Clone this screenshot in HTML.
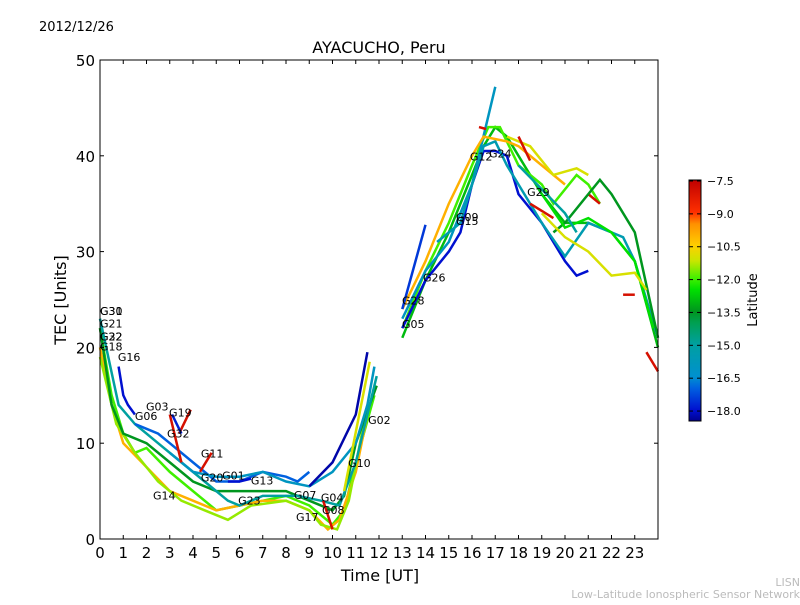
<!DOCTYPE html>
<html><head><meta charset="utf-8"><style>
body{margin:0;background:#fff;}
svg text{font-family:"DejaVu Sans","Liberation Sans",sans-serif;}
</style></head><body>
<svg id="chart" width="800" height="600" xmlns="http://www.w3.org/2000/svg">
<text x="39" y="31" font-size="13">2012/12/26</text>
<text x="379" y="53" font-size="16" text-anchor="middle">AYACUCHO, Peru</text>
<g id="series"></g>
<g id="labels"></g>
<rect x="100" y="60" width="558" height="479" fill="none" stroke="#000" stroke-width="1"/>
<g id="axes"></g>
<text x="380" y="581" font-size="16" text-anchor="middle">Time [UT]</text>
<text x="66" y="300" font-size="16" text-anchor="middle" transform="rotate(-90 66 300)">TEC [Units]</text>
<defs><linearGradient id="jet" x1="0" y1="1" x2="0" y2="0"></linearGradient></defs>
<rect x="689" y="180" width="12" height="241" fill="url(#jet)" stroke="#000" stroke-width="1"/>
<g id="cbar"></g>
<text x="757" y="300" font-size="13" text-anchor="middle" transform="rotate(-90 757 300)">Latitude</text>
<text x="800" y="586" font-size="11" fill="#bbb" text-anchor="end">LISN</text>
<text x="800" y="598" font-size="11" fill="#bbb" text-anchor="end">Low-Latitude Ionospheric Sensor Network</text>
</svg>
<script>
const xTicks=[0,1,2,3,4,5,6,7,8,9,10,11,12,13,14,15,16,17,18,19,20,21,22,23];
const yTicks=[0,10,20,30,40,50];
const cbarTicks=[-7.5,-9.0,-10.5,-12.0,-13.5,-15.0,-16.5,-18.0];
const seriesLat=[-12,-10,-11.5,-13.5,-15,-17,-16,-18,-18.3,-11,-8,-8,-8,-8,-17.8,-18,
 -13,-12,-18,-16,-15.5,-10,-11,-8,-8,-8,-8,-8,-8,-17.5,-13.5,-12.5,-11,-15];
const seriesPts=[
 [[0,22],[0.5,15],[1,11],[1.5,9],[2,9.5],[3,7],[4,5],[5,3],[6,3.5],[7,4],[8,4.5],[9,3.5],[10,1.5],[10.5,3],[11,8],[11.8,15]],
 [[0,20],[0.5,14],[1,10],[2,7.5],[3,5],[4,4],[5,3],[6,3.5],[7,4],[8,4],[9,3],[9.8,1],[10.3,2],[11,7],[11.5,13]],
 [[0,19],[0.7,12],[1.5,9],[2.5,6],[3.5,4],[4.5,3],[5.5,2],[6.5,3.5],[8,4],[9,3],[9.5,1.5],[10.2,1],[10.7,4],[11.5,14]],
 [[0,22],[0.5,14],[1,11],[2,10],[3,8],[4,6],[5,5],[6,5],[7,5],[8,5],[9,4],[10,3],[10.5,4.5],[11,10],[11.9,16]],
 [[0,23],[0.8,14],[1.5,12],[2.5,10],[3.5,8],[4.5,6],[5.5,4],[6,3.5],[7,4.5],[8.5,4.5],[9.5,4],[10.3,3.5],[11,8],[11.9,17]],
 [[1.5,12],[2,11.5],[2.5,11],[3,10],[4,8],[5,6],[6,6],[7,7],[8,6.5],[8.5,6],[9,7]],
 [[3,9],[4,7],[5,6.5],[6,6.5],[7,7],[8,6],[9,5.5],[10,7],[11,10],[11.5,14],[11.8,18]],
 [[0.8,18],[1,15],[1.2,14],[1.5,13]],
 [[9,5.5],[10,8],[11,13],[11.5,19.5]],
 [[10.5,5],[11.6,18.5]],
 [[3,13],[3.3,10],[3.5,8]],
 [[3.4,11],[3.9,13.5]],
 [[4.3,7],[4.8,9]],
 [[9.6,4],[10,1]],
 [[3.1,13],[3.5,11]],
 [[5.5,6],[6,6],[6.5,6.3]],
 [[13,21],[14,27],[15,32],[16,38],[16.5,41],[17,43],[17.5,42],[18,40],[19,36],[20,33],[21,33],[22,32],[23,29],[24,20]],
 [[13,22],[14,28],[15,33],[16,39],[16.7,43],[17.2,43],[18,39],[19,37],[19.5,35],[20.5,38],[21,37],[21.5,35]],
 [[13,22],[14,27],[15,30],[15.5,32],[16,37],[16.5,40.5],[17,40.5],[17.5,40],[18,36],[19,33],[20,29],[20.5,27.5],[21,28]],
 [[13,23],[14,28],[15,31],[16,37],[17,47.2]],
 [[14.5,31],[15.5,33],[16.5,41],[17,41.5],[17.5,39],[18,37],[19,33],[20,29.5],[21,33],[22,32],[22.5,31.5],[23,29],[24,21]],
 [[13,24],[14,29],[15,35],[16,40],[16.5,42],[17.5,41.5],[18,41],[19,39],[20,37]],
 [[17.5,42],[18.5,41],[19.5,38],[20.5,38.7],[21,38]],
 [[16.3,43],[16.6,42.8]],
 [[18,42],[18.5,39.5]],
 [[18.5,35],[19.5,33.5]],
 [[21,36],[21.5,35]],
 [[22.5,25.5],[23,25.5]],
 [[23.5,19.5],[24,17.5]],
 [[13,24],[14,32.8]],
 [[19.5,32],[20,33],[21,36],[21.5,37.5],[22,36],[23,32],[24,21]],
 [[19,36],[20,32.5],[21,33.5],[22,32],[23,29],[23.8,22]],
 [[19,34],[20,31.5],[21,30],[22,27.5],[23,27.8],[23.5,26]],
 [[18,39],[19,36.5],[20,34],[20.5,32]]
];
const labelNames=["G31","G30","G21","G22","G32","G18","G16","G03","G06","G19","G32","G11","G20","G01","G13","G14","G23","G07","G04","G08","G17","G10","G02","G28","G05","G26","G09","G15","G12","G24","G29"];
const labelT=[0,0,0,0,0,0,0.77,1.98,1.5,2.97,2.88,4.34,4.34,5.25,6.49,2.28,5.94,8.34,9.5,9.55,8.43,10.67,11.53,12.99,12.99,13.89,15.31,15.31,15.91,16.73,18.37];
const labelV=[23.4,23.4,22.1,20.7,20.7,19.7,18.6,13.4,12.4,12.8,10.6,8.5,6.0,6.2,5.7,4.1,3.6,4.2,3.9,2.6,1.9,7.5,12.0,24.5,22.0,26.9,33.2,32.8,39.5,39.8,35.8];
const X=t=>100+t*558/24, Y=v=>539-v*479/50;
const NS="http://www.w3.org/2000/svg";
const cmLat=[-18.5,-18,-17,-16.5,-15,-14,-13.5,-12.5,-12,-11.2,-10.5,-9.5,-9,-7.5];
const cmCol=[[0,0,143],[0,16,208],[0,96,224],[0,144,208],[0,160,160],[0,160,80],[0,150,30],[0,224,0],[64,240,0],[200,230,0],[255,208,0],[255,144,0],[255,48,0],[192,0,0]];
function jet(lat){lat=Math.max(-18.5,Math.min(-7.5,lat));
 for(let i=0;i<cmLat.length-1;i++){if(lat<=cmLat[i+1]){const f=(lat-cmLat[i])/(cmLat[i+1]-cmLat[i]);
  const c=cmCol[i].map((v,k)=>Math.round(v+(cmCol[i+1][k]-v)*f));return `rgb(${c[0]},${c[1]},${c[2]})`;}}
 return 'rgb(192,0,0)';}
const grad=document.getElementById('jet');
cmLat.forEach((l,i)=>{const s=document.createElementNS(NS,'stop');s.setAttribute('offset',((l+18.5)/11).toFixed(3));s.setAttribute('stop-color',jet(l));grad.appendChild(s);});
const sg=document.getElementById('series');
seriesPts.forEach((pts,i)=>{const p=document.createElementNS(NS,'polyline');
 p.setAttribute('points',pts.map(q=>X(q[0]).toFixed(1)+','+Y(q[1]).toFixed(1)).join(' '));
 p.setAttribute('fill','none');p.setAttribute('stroke',jet(seriesLat[i]));p.setAttribute('stroke-width','2.5');
 
 
 sg.appendChild(p);});
const lg=document.getElementById('labels');
labelNames.forEach((n,i)=>{const t=document.createElementNS(NS,'text');
 t.setAttribute('x',X(labelT[i]));t.setAttribute('y',Y(labelV[i]));t.setAttribute('font-size','11');t.textContent=n;
 
 
 lg.appendChild(t);});
const ax=document.getElementById('axes');
function line(x1,y1,x2,y2,g){const l=document.createElementNS(NS,'line');l.setAttribute('x1',x1);l.setAttribute('y1',y1);l.setAttribute('x2',x2);l.setAttribute('y2',y2);l.setAttribute('stroke','#000');
 
 
 g.appendChild(l);}
function txt(x,y,s,sz,anc,g,nm){const t=document.createElementNS(NS,'text');t.setAttribute('x',x);t.setAttribute('y',y);t.setAttribute('font-size',sz);t.setAttribute('text-anchor',anc);t.textContent=s;
 
 
 g.appendChild(t);}
xTicks.forEach(v=>{const x=X(v);line(x,539,x,535,ax);line(x,60,x,64,ax);txt(x,558,String(v),15,'middle',ax,'x-tick-label');});
yTicks.forEach(v=>{const y=Y(v);line(100,y,104,y,ax);line(658,y,654,y,ax);txt(95,y+6,String(v),15,'end',ax,'y-tick-label');});
const cg=document.getElementById('cbar');
cbarTicks.forEach(v=>{const y=180+(-7.5-v)/11*241+1;line(689,y,693,y,cg);line(701,y,697,y,cg);txt(707,y+4,'\u2212'+Math.abs(v).toFixed(1),11,'start',cg,'colorbar-tick-label');});
</script>
</body></html>
